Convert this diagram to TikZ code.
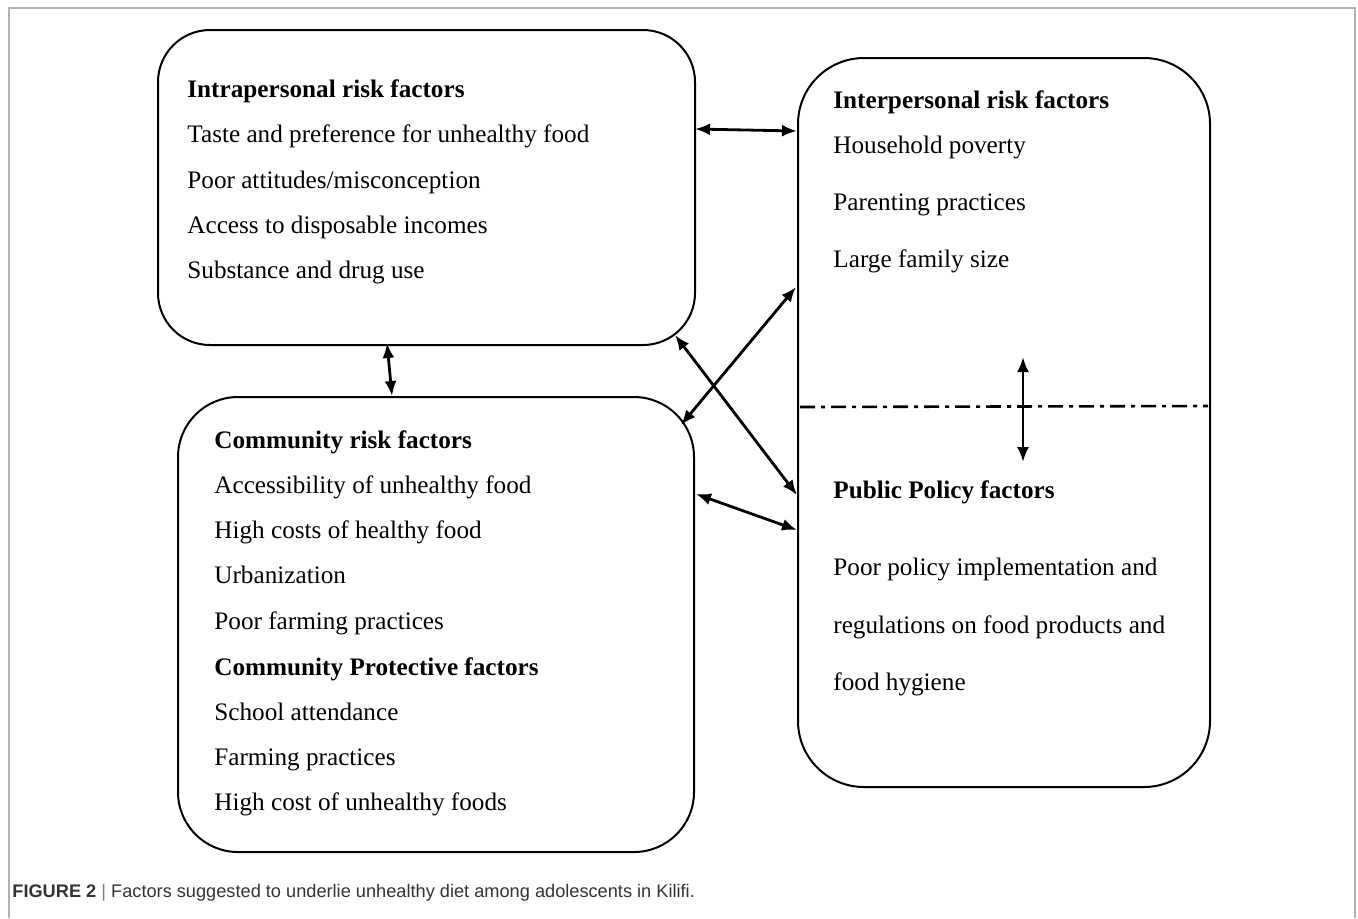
\documentclass[tikz,border=0pt]{standalone}
\usepackage{fontspec}
\setmainfont{Liberation Serif}
\newfontfamily\capfont{Liberation Sans}
\usetikzlibrary{arrows.meta}

\begin{document}
\begin{tikzpicture}[x=0.5pt,y=-0.5pt,
  box/.style={draw,line width=1pt,rounded corners=#1,inner sep=0pt},
  head/.style={anchor=base west,inner sep=0pt,font=\fontsize{12.6}{15}\selectfont\bfseries},
  item/.style={anchor=base west,inner sep=0pt,font=\fontsize{12.6}{15}\selectfont},
  link/.style={{Latex[length=7.5pt,width=6pt]}-{Latex[length=7.5pt,width=6pt]},line width=1.4pt}
  ]
    \useasboundingbox (0,0) rectangle (1358,918);
    \draw[black!30,line width=0.6pt] (9,918) -- (9,8) -- (1355,8) -- (1355,918);

    % the three boxes
    \node[box=26pt,minimum width=268.5pt,minimum height=157.5pt] (intra) at (426.5,187.5) {};
    \node[box=30pt,minimum width=258pt,minimum height=227.5pt] (comm) at (436,624.5) {};
    \node[box=33pt,minimum width=206pt,minimum height=364.5pt] (inter) at (1004,422.5) {};

    % intrapersonal
    \node[head] (intrah) at (187,97) {Intrapersonal risk factors};
    \node[item] (intra1) at (187,142) {Taste and preference for unhealthy food};
    \node[item] (intra2) at (187,188) {Poor attitudes/misconception};
    \node[item] (intra3) at (187,233) {Access to disposable incomes};
    \node[item] (intra4) at (187,278) {Substance and drug use};

    % interpersonal
    \node[head] (interh) at (833,108) {Interpersonal risk factors};
    \node[item] (inter1) at (833,153) {Household poverty};
    \node[item] (inter2) at (833,210) {Parenting practices};
    \node[item] (inter3) at (833,267) {Large family size};

    % public policy
    \node[head] (polh) at (833,498) {Public Policy factors};
    \node[item] (pol1) at (833,575) {Poor policy implementation and};
    \node[item] (pol2) at (833,633) {regulations on food products and};
    \node[item] (pol3) at (833,690) {food hygiene};

    % community
    \node[head] (commh) at (214,448) {Community risk factors};
    \node[item] (comm1) at (214,493) {Accessibility of unhealthy food};
    \node[item] (comm2) at (214,538) {High costs of healthy food};
    \node[item] (comm3) at (214,583) {Urbanization};
    \node[item] (comm4) at (214,629) {Poor farming practices};
    \node[head] (proth) at (214,675) {Community Protective factors};
    \node[item] (prot1) at (214,720) {School attendance};
    \node[item] (prot2) at (214,765) {Farming practices};
    \node[item] (prot3) at (214,810) {High cost of unhealthy foods};

    % split of the right box
    \coordinate (splitw) at (800,407);
    \coordinate (splite) at (1208,406);
    \draw[line width=1.3pt,dash pattern=on 7.5pt off 3pt on 2pt off 3pt] (splitw) -- (splite);

    % arrow ends
    \coordinate (intraE) at (695,129);
    \coordinate (interW) at (797,131);
    \coordinate (intraS) at (387,343);
    \coordinate (commN) at (392,396);
    \coordinate (intraSE) at (675,335);
    \coordinate (polW) at (797,495);
    \coordinate (interSW) at (796,287);
    \coordinate (commNE) at (681,425);
    \coordinate (commE) at (696,494);
    \coordinate (polW2) at (797,530);
    \coordinate (upper) at (1023,357);
    \coordinate (lower) at (1023,462);

    \draw[link] (intraE) -- (interW);
    \draw[link] (intraS) -- (commN);
    \draw[link] (intraSE) -- (polW);
    \draw[link] (interSW) -- (commNE);
    \draw[link] (commE) -- (polW2);
    \draw[link] (upper) -- (lower);

    \node[anchor=base west,inner sep=0pt,text=black!80,font=\capfont\fontsize{9.1}{11}\selectfont] (cap) at (12,897)
      {\textbf{FIGURE 2} {\color{black!50}|} Factors suggested to underlie unhealthy diet among adolescents in Kilifi.};
\end{tikzpicture}
\end{document}
